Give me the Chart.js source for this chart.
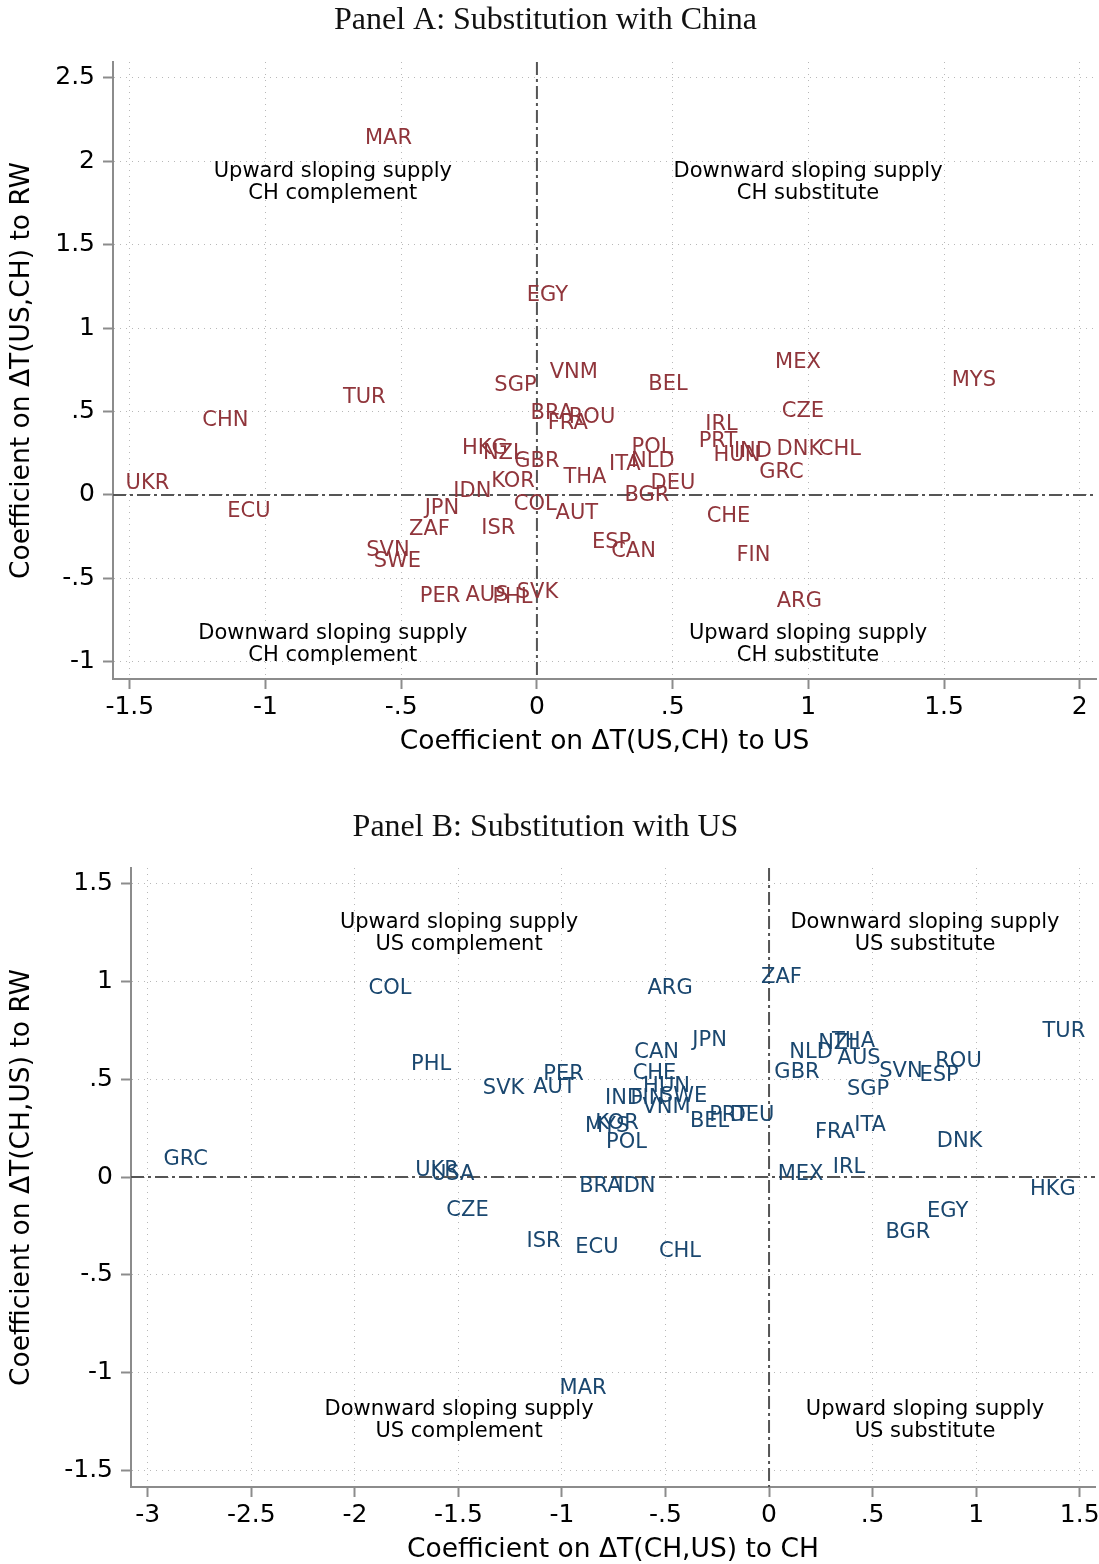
<!DOCTYPE html>
<html>
<head>
<meta charset="utf-8">
<script src="https://cdn.jsdelivr.net/npm/chart.js@4.4.1/dist/chart.umd.min.js"></script>
<style>
  html, body { margin: 0; padding: 0; background: #fff; }
  .panel { position: absolute; left: 0; width: 1099px; }
  #boxA { top: 0; height: 770px; }
  #boxB { top: 770px; height: 794px; }
</style>
</head>
<body>
<div class="panel" id="boxA"><canvas id="chartA" width="1099" height="770"></canvas></div>
<div class="panel" id="boxB"><canvas id="chartB" width="1099" height="794"></canvas></div>
<script>
// Panel A: substitution with China
const countriesA = ['MAR','EGY','VNM','SGP','TUR','CHN','BEL','MEX','MYS','CZE',
  'BRA','FRA','ROU','IRL','PRT','HUN','IND','DNK','CHL','GRC',
  'POL','NLD','ITA','THA','DEU','BGR','KOR','GBR','NZL','HKG',
  'IDN','COL','AUT','ISR','ESP','CAN','CHE','FIN','ARG','SVK',
  'PHL','AUS','PER','UKR','ECU','JPN','ZAF','SVN','SWE'];
const xA = [-0.547, 0.039, 0.136, -0.079, -0.636, -1.148, 0.483, 0.962, 1.610, 0.980,
  0.055, 0.114, 0.203, 0.680, 0.667, 0.737, 0.796, 0.967, 1.116, 0.901,
  0.424, 0.427, 0.324, 0.177, 0.501, 0.405, -0.088, 0.000, -0.122, -0.192,
  -0.238, -0.006, 0.147, -0.142, 0.275, 0.356, 0.706, 0.798, 0.967, 0.002,
  -0.090, -0.184, -0.357, -1.435, -1.061, -0.350, -0.396, -0.549, -0.514];
const yA = [2.132, 1.192, 0.731, 0.653, 0.581, 0.443, 0.659, 0.796, 0.683, 0.497,
  0.485, 0.425, 0.461, 0.419, 0.323, 0.234, 0.263, 0.275, 0.275, 0.132,
  0.287, 0.198, 0.180, 0.102, 0.066, -0.006, 0.078, 0.198, 0.251, 0.281,
  0.018, -0.060, -0.114, -0.198, -0.287, -0.341, -0.132, -0.365, -0.641, -0.587,
  -0.617, -0.605, -0.611, 0.066, -0.102, -0.084, -0.204, -0.335, -0.401];
const xTicksA = [-1.5, -1, -0.5, 0, 0.5, 1, 1.5, 2];
const yTicksA = [-1, -0.5, 0, 0.5, 1, 1.5, 2, 2.5];
const notesA = [['Upward sloping supply', 'CH complement'], ['Downward sloping supply', 'CH substitute'],
  ['Downward sloping supply', 'CH complement'], ['Upward sloping supply', 'CH substitute']];
const noteXA = [-0.752, 0.999, -0.752, 0.999];
const noteYA = [1.874, 1.874, -0.898, -0.898];

// Panel B: substitution with US
const countriesB = ['ZAF','ARG','COL','TUR','PHL','JPN','CAN','CHE','PER','AUT',
  'SVK','HUN','SWE','FIN','IND','VNM','BEL','PRT','DEU','MYS',
  'KOR','POL','BRA','IDN','MEX','IRL','NLD','NZL','THA','AUS',
  'GBR','SGP','SVN','ESP','ROU','FRA','ITA','DNK','HKG','EGY',
  'BGR','UKR','USA','CZE','ISR','ECU','CHL','GRC','MAR'];
const xB = [0.060, -0.478, -1.830, 1.424, -1.632, -0.287, -0.543, -0.553, -0.992, -1.036,
  -1.282, -0.495, -0.413, -0.587, -0.700, -0.495, -0.287, -0.196, -0.082, -0.782,
  -0.734, -0.688, -0.814, -0.640, 0.152, 0.386, 0.203, 0.338, 0.408, 0.435,
  0.135, 0.478, 0.637, 0.821, 0.915, 0.319, 0.488, 0.920, 1.371, 0.862,
  0.671, -1.603, -1.528, -1.456, -1.089, -0.831, -0.430, -2.817, -0.898];
const yB = [1.023, 0.962, 0.962, 0.742, 0.573, 0.696, 0.639, 0.527, 0.522, 0.460,
  0.455, 0.465, 0.414, 0.404, 0.399, 0.353, 0.286, 0.317, 0.317, 0.256,
  0.271, 0.174, -0.051, -0.051, 0.015, 0.046, 0.639, 0.685, 0.691, 0.604,
  0.532, 0.445, 0.542, 0.517, 0.593, 0.225, 0.261, 0.179, -0.066, -0.179,
  -0.286, 0.031, 0.015, -0.174, -0.332, -0.363, -0.379, 0.087, -1.084];
const xTicksB = [-3, -2.5, -2, -1.5, -1, -0.5, 0, 0.5, 1, 1.5];
const yTicksB = [-1.5, -1, -0.5, 0, 0.5, 1, 1.5];
const notesB = [['Upward sloping supply', 'US complement'], ['Downward sloping supply', 'US substitute'],
  ['Downward sloping supply', 'US complement'], ['Upward sloping supply', 'US substitute']];
const noteXB = [-1.497, 0.753, -1.497, 0.753];
const noteYB = [1.246, 1.246, -1.244, -1.244];

const MAROON = '#90353b';
const NAVY = '#1a476f';
const SANS = '"DejaVu Sans", sans-serif';

// Stata style tick labels: .5 instead of 0.5
const fmt = v => String(v).replace(/^(-?)0\./, '$1.');

// text labels drawn at each point
const labelPlugin = {
  id: 'textLabels',
  afterDatasetsDraw(chart) {
    const ctx = chart.ctx;
    chart.data.datasets.forEach((ds, i) => {
      const meta = chart.getDatasetMeta(i);
      ctx.save();
      ctx.font = ds.labelFont;
      ctx.fillStyle = ds.labelColor;
      ctx.textAlign = 'center';
      ctx.textBaseline = 'middle';
      meta.data.forEach((pt, j) => {
        const lines = [].concat(ds.labels[j]);
        lines.forEach((ln, k) => {
          ctx.fillText(ln, pt.x, pt.y + (k - (lines.length - 1) / 2) * (ds.lineGap || 0));
        });
      });
      ctx.restore();
    });
  }
};

// dashed reference lines at x=0 and y=0
const zeroLines = {
  id: 'zeroLines',
  beforeDatasetsDraw(chart) {
    const { ctx, chartArea: a, scales: { x, y } } = chart;
    const px = x.getPixelForValue(0), py = y.getPixelForValue(0);
    ctx.save();
    ctx.strokeStyle = '#555';
    ctx.lineWidth = 2;
    ctx.setLineDash([13, 4, 3, 4]);
    ctx.beginPath();
    ctx.moveTo(a.left, py); ctx.lineTo(a.right, py);
    ctx.moveTo(px, a.top); ctx.lineTo(px, a.bottom);
    ctx.stroke();
    ctx.restore();
  }
};

// serif panel title
const panelTitle = {
  id: 'panelTitle',
  afterDraw(chart, args, opts) {
    const ctx = chart.ctx;
    ctx.save();
    ctx.font = '32px "Liberation Serif", serif';
    ctx.fillStyle = '#111';
    ctx.textAlign = 'center';
    ctx.textBaseline = 'middle';
    ctx.fillText(opts.text, chart.width / 2 - 4, opts.y);
    ctx.restore();
  }
};

function axis(min, max, ticks, title, opt) {
  return {
    type: 'linear', min, max,
    afterBuildTicks: s => { s.ticks = ticks.map(v => ({ value: v })); },
    afterFit: s => {
      if (opt.width) s.width = opt.width;
      if (opt.height) s.height = opt.height;
      // let end labels overhang instead of shrinking the plot
      s.paddingLeft = 0; s.paddingRight = 0; s.paddingTop = 0; s.paddingBottom = 0;
    },
    ticks: {
      autoSkip: false, maxRotation: 0, padding: opt.pad,
      color: '#000', font: { family: SANS, size: 25 },
      callback: v => fmt(v)
    },
    grid: { color: '#b8b8b8', lineWidth: 1, drawTicks: true, tickLength: 10, tickColor: '#8c8c8c', tickWidth: 2 },
    border: { display: true, color: '#8c8c8c', width: 2, dash: [1, 5] },
    title: {
      display: true, text: title, color: '#000',
      font: { family: SANS, size: 26.5, lineHeight: 1 },
      padding: opt.titlePad
    }
  };
}

function makeChart(id, cfg) {
  const pts = cfg.xs.map((x, i) => ({ x, y: cfg.ys[i] }));
  const notePts = cfg.noteX.map((x, i) => ({ x, y: cfg.noteY[i] }));
  return new Chart(document.getElementById(id), {
    type: 'scatter',
    data: {
      datasets: [
        { data: pts, labels: cfg.names, labelColor: cfg.color, labelFont: '21px ' + SANS, pointRadius: 0 },
        { data: notePts, labels: cfg.notes, labelColor: '#000', labelFont: '21px ' + SANS, lineGap: 22, pointRadius: 0 }
      ]
    },
    options: {
      responsive: false, animation: false,
      layout: { padding: { top: cfg.top, left: 0, right: cfg.right, bottom: 0 } },
      plugins: { legend: { display: false }, tooltip: { enabled: false }, panelTitle: { text: cfg.title, y: cfg.titleY } },
      scales: {
        x: axis(cfg.xr[0], cfg.xr[1], cfg.xt, cfg.xTitle, { height: cfg.xh, pad: 3, titlePad: { top: 0, bottom: cfg.xTitlePad } }),
        y: axis(cfg.yr[0], cfg.yr[1], cfg.yt, cfg.yTitle, { width: cfg.yw, pad: 8, titlePad: { top: 9, bottom: 0 } })
      }
    },
    plugins: [zeroLines, labelPlugin, panelTitle]
  });
}

makeChart('chartA', {
  xs: xA, ys: yA, names: countriesA, color: MAROON,
  notes: notesA, noteX: noteXA, noteY: noteYA,
  xr: [-1.562, 2.06], yr: [-1.102, 2.593], xt: xTicksA, yt: yTicksA,
  xTitle: 'Coefficient on ΔT(US,CH) to US', yTitle: 'Coefficient on ΔT(US,CH) to RW',
  title: 'Panel A: Substitution with China', titleY: 21,
  top: 62, right: 3, yw: 113, xh: 91, xTitlePad: 15
});

makeChart('chartB', {
  xs: xB, ys: yB, names: countriesB, color: NAVY,
  notes: notesB, noteX: noteXB, noteY: noteYB,
  xr: [-3.081, 1.574], yr: [-1.586, 1.581], xt: xTicksB, yt: yTicksB,
  xTitle: 'Coefficient on ΔT(CH,US) to CH', yTitle: 'Coefficient on ΔT(CH,US) to RW',
  title: 'Panel B: Substitution with US', titleY: 58,
  top: 98, right: 4, yw: 131, xh: 77, xTitlePad: 1
});
</script>
</body>
</html>
